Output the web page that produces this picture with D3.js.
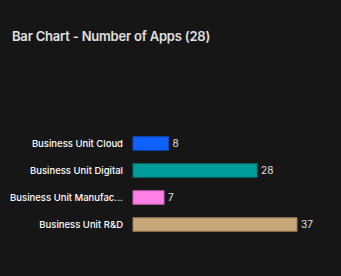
<!DOCTYPE html>
<html>
<head>
<meta charset="utf-8">
<script src="https://cdn.jsdelivr.net/npm/d3@7"></script>
<style>
  html, body { margin: 0; padding: 0; background: #161616; }
  svg text { font-family: "Inter", "Noto Sans", sans-serif; }
</style>
</head>
<body>
<div id="chart"></div>
<script>
// 데이터
const categories = ['Business Unit Cloud', 'Business Unit Digital', 'Business Unit Manufacturing', 'Business Unit R&D'];
const values = [8, 28, 7, 37];
const colors = ['#0f62fe', '#009d9a', '#ff80e6', '#c8a878'];
const titleText = 'Bar Chart - Number of Apps (28)';

const width = 341;
const height = 276;
const margin = { top: 130, right: 42, bottom: 38, left: 133 };

const svg = d3.select('#chart')
    .append('svg')
    .attr('width', width)
    .attr('height', height);

svg.append('rect')
    .attr('width', width)
    .attr('height', height)
    .attr('fill', '#161616');

// 제목
svg.append('text')
    .attr('x', 12)
    .attr('y', 41)
    .attr('fill', '#e0e0e0')
    .style('font-size', '13px')
    .style('font-weight', 600)
    .style('letter-spacing', '-0.2px')
    .text(titleText);

const data = categories.map((c, i) => ({ name: c, value: values[i], color: colors[i] }));

const x = d3.scaleLinear()
    .domain([0, 37])
    .range([margin.left, margin.left + 164]);

const y = d3.scaleBand()
    .domain(categories)
    .range([margin.top, height - margin.bottom])
    .paddingInner(0.5)
    .paddingOuter(0.25);

// 긴 라벨 줄이기
function shorten(s) {
    return s.length > 21 ? s.slice(0, 21) + '...' : s;
}

// 막대
svg.selectAll('.bar')
    .data(data)
    .enter()
    .append('rect')
    .attr('class', 'bar')
    .attr('x', x(0))
    .attr('y', d => y(d.name))
    .attr('width', d => x(d.value) - x(0))
    .attr('height', y.bandwidth())
    .attr('fill', d => d.color)
    .attr('stroke', d => d3.color(d.color).darker(0.8))
    .attr('stroke-width', 1);

// 카테고리 라벨
svg.selectAll('.label')
    .data(data)
    .enter()
    .append('text')
    .attr('class', 'label')
    .attr('x', margin.left - 10)
    .attr('y', d => y(d.name) + y.bandwidth() / 2)
    .attr('dy', '0.35em')
    .attr('text-anchor', 'end')
    .attr('fill', '#ffffff')
    .style('font-size', '9.5px')
    .style('font-weight', 500)
    .text(d => shorten(d.name));

// 값 라벨
svg.selectAll('.value')
    .data(data)
    .enter()
    .append('text')
    .attr('class', 'value')
    .attr('x', d => x(d.value) + 4)
    .attr('y', d => y(d.name) + y.bandwidth() / 2)
    .attr('dy', '0.35em')
    .attr('fill', '#e0e0e0')
    .style('font-size', '10px')
    .text(d => d.value);
</script>
</body>
</html>
